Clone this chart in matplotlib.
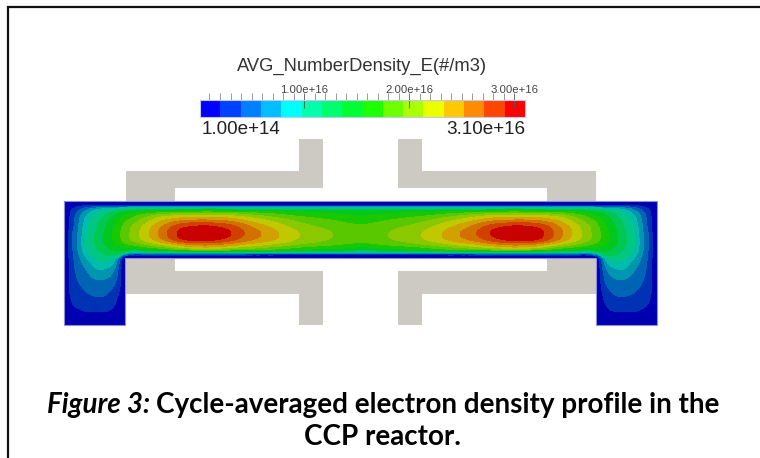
import numpy as np
import matplotlib
matplotlib.use("Agg")
import matplotlib.pyplot as plt
import matplotlib.tri as mtri
from matplotlib.colors import ListedColormap, BoundaryNorm
from matplotlib.patches import Polygon

# colorbar scale, #/m3
bar_min = 1.00e14
bar_max = 3.10e16
bar_major = [1e16, 2e16, 3e16]
bar_major_labels = ["1.00e+16", "2.00e+16", "3.00e+16"]
bar_colors = ["#0000ff", "#0040ff", "#0080ff", "#00beff", "#00ffff", "#00ffaa", "#00ff6e", "#00ff32",
              "#1eff00", "#6eff00", "#aaff00", "#ebff00", "#ffc800", "#ff8c00", "#ff4600", "#ff0000"]
field_colors = ["#0000b0", "#0032b4", "#0064b4", "#0096b0", "#00bcaa", "#00c882", "#00c850", "#00c81e",
                "#18c800", "#5ac800", "#8cc800", "#c0c800", "#d2a000", "#d27000", "#d24000", "#c80000"]

# density, 1e15 #/m3, left half of the reactor
# (the right half is its mirror image)
x_stations = [64, 68, 73, 78, 84, 90, 97, 105, 113, 118, 123, 133, 143, 153, 163, 173,
              183, 207, 229, 243, 259, 276, 298, 330, 360.5]
y_stations = [201, 203, 205, 207, 209, 212, 215, 220, 226, 233, 240, 244, 247, 250, 252, 254, 256, 258,
              263, 270, 280, 296, 312, 320, 325]
density_columns = [
    [0] * 25,
    [0, .2, .4, .7, 1, 1.2, 1.3, 1.4, 1.5, 1.6, 1.6, 1.6, 1.6, 1.6, 1.6, 1.6, 1.6, 1.6, 1.6, 1.6, 1.5, 1.5, 1, .4, 0],
    [0, .3, .8, 1.5, 2.1, 2.7, 3, 3.3, 3.5, 4, 4, 4, 4, 4, 3.9, 3.9, 3.8, 3.7, 3.6, 3.4, 3.1, 2.4, 1.5, .6, 0],
    [0, .4, 1.1, 2.2, 3.2, 4.2, 4.8, 5.3, 5.6, 5.9, 6, 6, 6, 5.9, 5.8, 5.6, 5.4, 5.2, 4.9, 4.5, 4, 2.8, 1.7, .7, 0],
    [0, .5, 1.4, 3, 4.5, 5.9, 6.8, 7.6, 8.1, 8.6, 8.8, 8.8, 8.6, 8.4, 8.1, 7.8, 7.4, 7, 6.3, 5.5, 4.7, 3.4, 1.9, .8, 0],
    [0, .5, 1.7, 3.8, 6, 7.6, 8.6, 9.6, 10.2, 10.6, 10.8, 10.8, 10.6, 10.3, 10, 9.6, 9.1, 8.6, 7.6, 6.5, 5.3, 3.8, 2, .8, 0],
    [0, .6, 1.9, 4.5, 7.2, 9.2, 10.1, 11, 11.6, 12, 12.1, 12, 11.8, 11.5, 11.2, 10.9, 10.5, 10, 9, 7.6, 5.8, 4, 2, .8, 0],
    [0, .6, 2, 5, 8.2, 10.5, 11.6, 12.6, 13.3, 13.8, 13.9, 13.7, 13.2, 12.6, 12.2, 11.8, 11.2, 10.7, 9.3, 7.5, 5.7, 3.9, 2, .8, 0],
    [0, .6, 2, 5.5, 9, 12, 13.2, 14.4, 15.2, 15.7, 15.6, 15.2, 14.5, 13.8, 13.2, 12.4, 11.3, 10, 8, 6.2, 4.8, 3, 1.6, .6, 0],
    [0, .6, 2, 5.7, 9.6, 12.8, 14.2, 15.5, 16.3, 16.8, 16.6, 15.8, 14.8, 14, 13.2, 12, 9.8, 6.5, 4.8, 3.9, 3.3, 2, 1.1, .5, 0],
    [0, .6, 2, 5.8, 10, 13.6, 15.2, 16.6, 17.6, 18, 17.8, 16.8, 15.5, 14, 12, 8, 3.5, 1.5, 1, .9, .9, .7, .4, .2, 0],
    [0, .6, 2, 6, 10.5, 14.5, 16.5, 18.2, 19.6, 20, 19.6, 18, 16, 13, 9, 4, 1, 0] + [0] * 7,
    [0, .6, 2, 6, 11, 15.5, 17.8, 19.8, 21.4, 22, 21.3, 19.2, 17, 14, 9.5, 4, 1, 0] + [0] * 7,
    [0, .5, 1.8, 6, 11.2, 16, 19, 21.5, 23.3, 24, 23, 20.5, 18, 14.5, 10, 4, 1, 0] + [0] * 7,
    [0, .5, 1.7, 6.2, 11.4, 16.5, 20, 23, 25.2, 26.2, 25, 22, 19, 15, 10, 4, 1, 0] + [0] * 7,
    [0, .4, 1.6, 6.3, 11.5, 17, 20.5, 24, 27, 28.2, 27, 23.5, 20.5, 16, 10.5, 4, 1, 0] + [0] * 7,
    [0, .4, 1.5, 6.4, 11.6, 17.2, 21, 24.8, 28.3, 29.9, 28.7, 25, 22, 17, 11, 4, 1, 0] + [0] * 7,
    [0, .4, 1.5, 6.5, 11.7, 17.5, 21.3, 25.2, 29.1, 30.8, 29.4, 26, 23.3, 18, 11, 4, 1, 0] + [0] * 7,
    [0, .4, 1.5, 6.4, 11.6, 17.2, 20.8, 24.5, 27.8, 29.3, 27.8, 24.8, 22, 17.5, 11, 4, 1, 0] + [0] * 7,
    [0, .4, 1.6, 6.3, 11.5, 16.8, 20, 23.2, 26, 27.3, 26, 23.5, 21, 17, 11, 4, 1, 0] + [0] * 7,
    [0, .4, 1.7, 6.2, 11.3, 16.3, 19, 21.8, 24, 25.4, 24.5, 22.3, 20, 16.5, 10.5, 3.8, 1, 0] + [0] * 7,
    [0, .4, 1.8, 6.1, 11.2, 15.8, 18, 20.4, 22.3, 23.5, 23, 21, 19, 16, 10.3, 3.7, 1, 0] + [0] * 7,
    [0, .4, 1.9, 6, 11.1, 15.2, 16.9, 18.8, 20.3, 21.4, 21, 19.5, 17.6, 15, 10, 3.6, 1, 0] + [0] * 7,
    [0, .4, 2, 6, 11, 14.8, 16, 17.5, 18.7, 19.5, 19.2, 18, 16.4, 14, 9.5, 3.5, 1, 0] + [0] * 7,
    [0, .4, 2, 6, 11, 14.5, 15.5, 16.5, 17.7, 18.5, 18, 17, 15.5, 13.6, 9, 3.5, 1, 0] + [0] * 7,
]

# reactor outline and electrodes, in picture pixels
plasma_outline = [(64, 201), (657, 201), (657, 325), (596, 325), (596, 257.5),
                  (125, 257.5), (125, 325), (64, 325)]
electrodes = [
    [(126, 171), (299, 171), (299, 139), (323, 139), (323, 188), (175, 188), (175, 201), (126, 201)],
    [(596, 171), (422, 171), (422, 139), (398, 139), (398, 188), (547, 188), (547, 201), (596, 201)],
    [(126, 257), (175, 257), (175, 271), (323, 271), (323, 325), (299, 325), (299, 294), (126, 294)],
    [(596, 257), (547, 257), (547, 271), (398, 271), (398, 325), (422, 325), (422, 294), (596, 294)],
]

plt.rcParams['font.family'] = ['Liberation Sans', 'DejaVu Sans']

W, H = 760, 458
fig = plt.figure(figsize=(W / 100, H / 100), dpi=100)
ax = fig.add_axes([0, 0, 1, 1])
ax.set_xlim(0, W)
ax.set_ylim(H, 0)
ax.axis('off')

# frame, only left and top are in the picture
ax.plot([7.5, 7.5, W], [H, 6.5, 6.5], color='#111111', lw=1.6, solid_joinstyle='miter')

for pts in electrodes:
    ax.add_patch(Polygon(pts, closed=True, facecolor='#cdcac3', edgecolor='none', zorder=1))

# plasma field, built from the left half and its mirror
left = np.array(density_columns, dtype=float)
xs = np.array(x_stations, dtype=float)
x_all = np.concatenate([xs, (721 - xs[:-1])[::-1]])
field = np.vstack([left, left[:-1][::-1]]).T

# smooth contours through the library's own refiner
gx, gy = np.meshgrid(x_all, y_stations)
tri = mtri.Triangulation(gx.ravel(), gy.ravel())
interp = mtri.CubicTriInterpolator(tri, field.ravel(), kind='geom')
tri_fine, field_fine = mtri.UniformTriRefiner(tri).refine_field(field.ravel(), triinterpolator=interp, subdiv=3)

levels = np.linspace(bar_min, bar_max, 17) / 1e15
levels[0] = -50
levels[-1] = 60
outline = Polygon(plasma_outline, closed=True, facecolor='none', edgecolor='#8f8fd8', lw=0.8, zorder=3)
ax.add_patch(outline)
cs = ax.tricontourf(tri_fine, field_fine, levels=levels, colors=field_colors, zorder=2)
cs.set_clip_path(outline)

# colorbar
bar_ax = fig.add_axes([200 / W, 1 - 117 / H, 325 / W, 17 / H])
edges = np.linspace(bar_min, bar_max, 17)
norm = BoundaryNorm(edges, 16)
bar_ax.pcolormesh(edges, [0, 1], [(edges[:-1] + edges[1:]) / 2], cmap=ListedColormap(bar_colors), norm=norm)
bar_ax.set_xlim(bar_min, bar_max)
bar_ax.set_yticks([])
for s in bar_ax.spines.values():
    s.set_color('#c4c8f0')
    s.set_linewidth(0.8)
bar_ax.set_xticks(bar_major, bar_major_labels, fontsize=8.2, color='#444444')
bar_ax.set_xticks(np.arange(1e15, 3.1e16, 1e15), minor=True)
bar_ax.xaxis.tick_top()
bar_ax.tick_params(axis='x', which='major', direction='inout', length=10.8, width=0.6, color='#555555', pad=-2)
bar_ax.tick_params(axis='x', which='minor', direction='out', length=5, width=0.6, color='#888888', top=True, bottom=False)

ax.text(362, 66, "AVG_NumberDensity_E(#/m3)", ha='center', va='center', fontsize=13.2, color='#333333')
ax.text(202, 129, "1.00e+14", ha='left', va='center', fontsize=13.6, color='#222222')
ax.text(525, 129, "3.10e+16", ha='right', va='center', fontsize=13.6, color='#222222')

# caption
cap_font = ['Lato', 'DejaVu Sans']
fig.canvas.draw()
rend = fig.canvas.get_renderer()
t1 = ax.text(0, 413, "Figure 3:", fontsize=20, fontweight='bold', style='italic', family=cap_font, color='black')
t2 = ax.text(0, 413, "Cycle-averaged electron density profile in the", fontsize=20, fontweight='bold', family=cap_font, color='black')
w1 = t1.get_window_extent(rend).width
w2 = t2.get_window_extent(rend).width
gap = 6
t1.set_x(383 - (w1 + w2 + gap) / 2)
t2.set_x(383 - (w1 + w2 + gap) / 2 + w1 + gap)
ax.text(383, 445, "CCP reactor.", ha='center', fontsize=20, fontweight='bold', family=cap_font, color='black')

fig.savefig('out.png', dpi=100)
